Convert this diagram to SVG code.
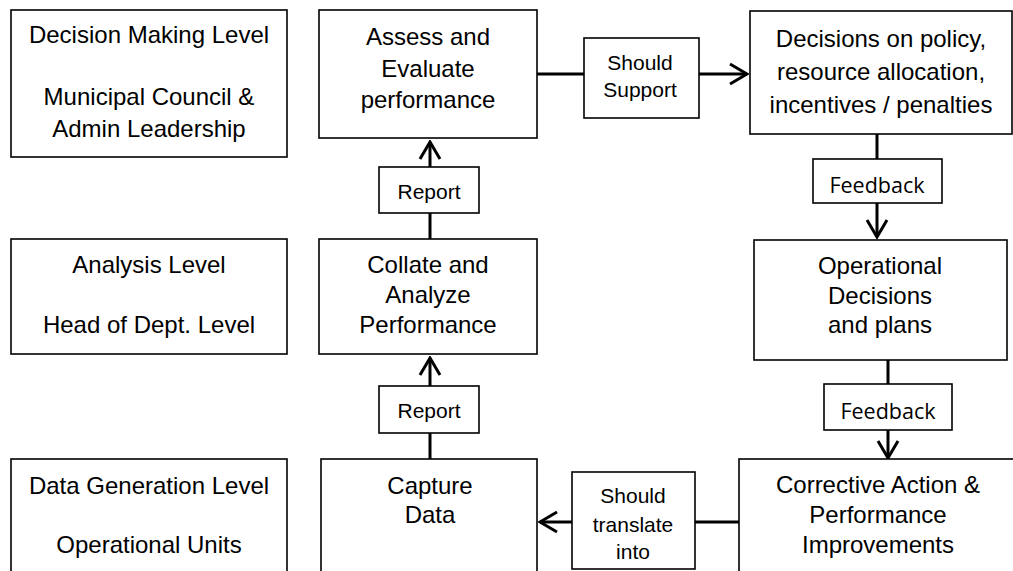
<svg xmlns="http://www.w3.org/2000/svg" width="1013" height="571" viewBox="0 0 1013 571">
<defs>
<style>
.box{fill:#fff;stroke:#000;stroke-width:1.6}
.t{font-family:"Liberation Sans",Arial,sans-serif;font-size:24px;fill:#000;text-anchor:middle}
.s{font-family:"Liberation Sans",Arial,sans-serif;font-size:21px;fill:#000;text-anchor:middle}
.c{font-family:"Open Sans","Noto Sans",sans-serif;font-size:21.5px;fill:#000;text-anchor:middle}
.ln{stroke:#000;stroke-width:3;fill:none}
</style>
<marker id="chev" viewBox="-20 -12 22 24" refX="0" refY="0" markerWidth="22" markerHeight="24" markerUnits="userSpaceOnUse" orient="auto">
<path d="M-17,-10 L0,0 L-17,10" fill="none" stroke="#000" stroke-width="3"/>
</marker>
</defs>
<rect width="1013" height="571" fill="#fff"/>
<g id="connectors">
<line class="ln" x1="430" y1="167" x2="430" y2="142" marker-end="url(#chev)"/>
<line class="ln" x1="430" y1="213" x2="430" y2="239"/>
<line class="ln" x1="430" y1="386" x2="430" y2="358" marker-end="url(#chev)"/>
<line class="ln" x1="430" y1="433" x2="430" y2="459"/>
<line class="ln" x1="537" y1="74" x2="584" y2="74"/>
<line class="ln" x1="699" y1="74" x2="747" y2="74" marker-end="url(#chev)"/>
<line class="ln" x1="877" y1="134" x2="877" y2="159"/>
<line class="ln" x1="877" y1="203" x2="877" y2="237" marker-end="url(#chev)"/>
<line class="ln" x1="888" y1="360" x2="888" y2="384"/>
<line class="ln" x1="888" y1="430" x2="888" y2="458" marker-end="url(#chev)"/>
<line class="ln" x1="739" y1="522" x2="695" y2="522"/>
<line class="ln" x1="572" y1="522" x2="540" y2="522" marker-end="url(#chev)"/>
</g>
<g id="decision-level">
<rect class="box" x="11" y="10" width="276" height="147"/>
<text class="t" x="149" y="43">Decision Making Level</text>
<text class="t" x="149" y="105">Municipal Council &amp;</text>
<text class="t" x="149" y="137">Admin Leadership</text>
</g>
<g id="analysis-level">
<rect class="box" x="11" y="239" width="276" height="115"/>
<text class="t" x="149" y="273">Analysis Level</text>
<text class="t" x="149" y="333">Head of Dept. Level</text>
</g>
<g id="data-level">
<rect class="box" x="11" y="459" width="276" height="120"/>
<text class="t" x="149" y="494">Data Generation Level</text>
<text class="t" x="149" y="553">Operational Units</text>
</g>
<g id="assess">
<rect class="box" x="319" y="10" width="218" height="128"/>
<text class="t" x="428" y="45">Assess and</text>
<text class="t" x="428" y="77">Evaluate</text>
<text class="t" x="428" y="108">performance</text>
</g>
<g id="collate">
<rect class="box" x="319" y="239" width="218" height="115"/>
<text class="t" x="428" y="273">Collate and</text>
<text class="t" x="428" y="303">Analyze</text>
<text class="t" x="428" y="333">Performance</text>
</g>
<g id="capture">
<rect class="box" x="321" y="459" width="216" height="120"/>
<text class="t" x="430" y="494">Capture</text>
<text class="t" x="430" y="523">Data</text>
</g>
<g id="report1">
<rect class="box" x="379" y="167" width="100" height="46"/>
<text class="s" x="429" y="199">Report</text>
</g>
<g id="report2">
<rect class="box" x="379" y="386" width="100" height="47"/>
<text class="s" x="429" y="418">Report</text>
</g>
<g id="should-support">
<rect class="box" x="584" y="38" width="115" height="80"/>
<text class="s" x="640" y="70">Should</text>
<text class="s" x="640" y="97">Support</text>
</g>
<g id="decisions">
<rect class="box" x="750" y="11" width="262" height="123"/>
<text class="t" x="881" y="47">Decisions on policy,</text>
<text class="t" x="881" y="80">resource allocation,</text>
<text class="t" x="881" y="113">incentives / penalties</text>
</g>
<g id="feedback1">
<rect class="box" x="813" y="159" width="129" height="44"/>
<text class="c" x="877" y="193">Feedback</text>
</g>
<g id="operational">
<rect class="box" x="754" y="240" width="253" height="120"/>
<text class="t" x="880" y="274">Operational</text>
<text class="t" x="880" y="304">Decisions</text>
<text class="t" x="880" y="333">and plans</text>
</g>
<g id="feedback2">
<rect class="box" x="824" y="384" width="128" height="46"/>
<text class="c" x="888" y="419">Feedback</text>
</g>
<g id="corrective">
<rect class="box" x="739" y="459" width="285" height="120"/>
<text class="t" x="878" y="493">Corrective Action &amp;</text>
<text class="t" x="878" y="523">Performance</text>
<text class="t" x="878" y="553">Improvements</text>
</g>
<g id="should-translate">
<rect class="box" x="572" y="472" width="123" height="97"/>
<text class="s" x="633" y="503">Should</text>
<text class="s" x="633" y="532">translate</text>
<text class="s" x="633" y="559">into</text>
</g>
</svg>
